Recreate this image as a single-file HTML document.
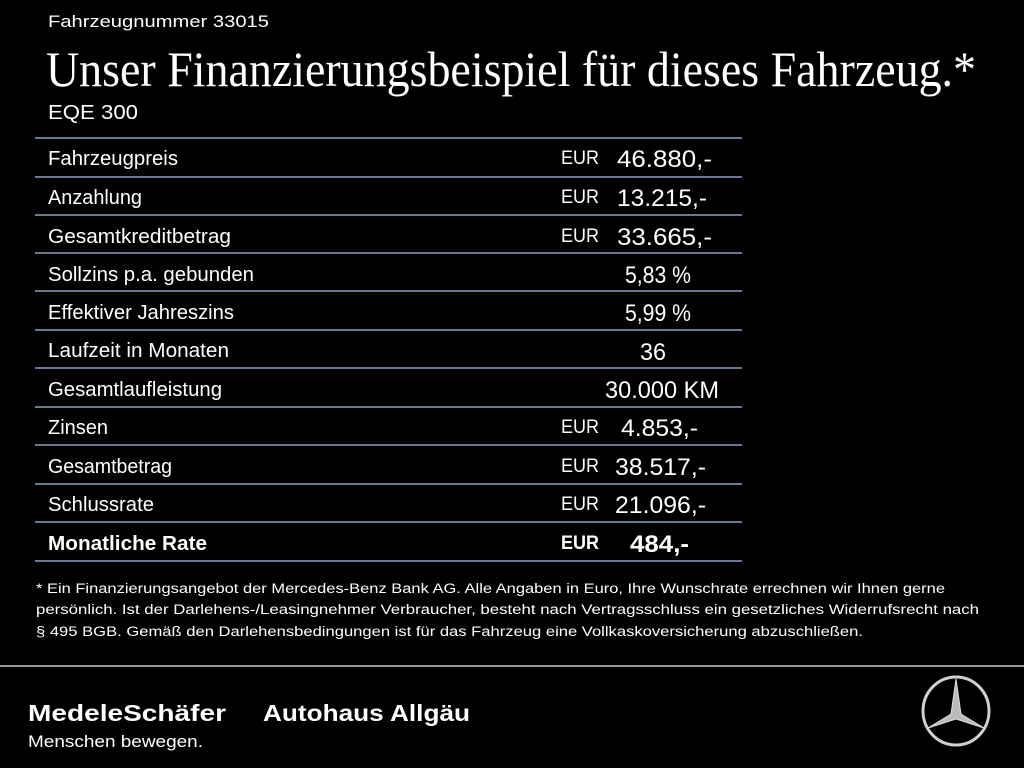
<!DOCTYPE html>
<html><head><meta charset="utf-8"><style>
html,body{margin:0;padding:0;background:#000;}
svg{display:block}
</style></head><body>
<svg width="1024" height="768" viewBox="0 0 1024 768" xmlns="http://www.w3.org/2000/svg">
<rect width="1024" height="768" fill="#000"/>
<g font-family="Liberation Sans, sans-serif" fill="#fff">
<text x="48" y="27" font-size="17" textLength="221" lengthAdjust="spacingAndGlyphs">Fahrzeugnummer 33015</text>
<text x="46" y="86" font-family="Liberation Serif, serif" font-size="50" textLength="930" lengthAdjust="spacingAndGlyphs">Unser Finanzierungsbeispiel für dieses Fahrzeug.*</text>
<text x="48" y="119" font-size="20" textLength="90" lengthAdjust="spacingAndGlyphs">EQE 300</text>
</g>
<g stroke="#6a7890" stroke-width="2">
<line x1="35" y1="138" x2="742" y2="138"/>
<line x1="35" y1="177" x2="742" y2="177"/>
<line x1="35" y1="215" x2="742" y2="215"/>
<line x1="35" y1="253" x2="742" y2="253"/>
<line x1="35" y1="291" x2="742" y2="291"/>
<line x1="35" y1="330" x2="742" y2="330"/>
<line x1="35" y1="368" x2="742" y2="368"/>
<line x1="35" y1="407" x2="742" y2="407"/>
<line x1="35" y1="445" x2="742" y2="445"/>
<line x1="35" y1="484" x2="742" y2="484"/>
<line x1="35" y1="522" x2="742" y2="522"/>
<line x1="35" y1="561" x2="742" y2="561"/>
</g>
<g font-family="Liberation Sans, sans-serif" fill="#fff" font-size="20">
<text x="48" y="165" textLength="130" lengthAdjust="spacingAndGlyphs">Fahrzeugpreis</text>
<text x="48" y="204" textLength="94" lengthAdjust="spacingAndGlyphs">Anzahlung</text>
<text x="48" y="243" textLength="183" lengthAdjust="spacingAndGlyphs">Gesamtkreditbetrag</text>
<text x="48" y="281" textLength="206" lengthAdjust="spacingAndGlyphs">Sollzins p.a. gebunden</text>
<text x="48" y="319" textLength="186" lengthAdjust="spacingAndGlyphs">Effektiver Jahreszins</text>
<text x="48" y="357" textLength="181" lengthAdjust="spacingAndGlyphs">Laufzeit in Monaten</text>
<text x="48" y="396" textLength="174" lengthAdjust="spacingAndGlyphs">Gesamtlaufleistung</text>
<text x="48" y="434" textLength="60" lengthAdjust="spacingAndGlyphs">Zinsen</text>
<text x="48" y="473" textLength="124" lengthAdjust="spacingAndGlyphs">Gesamtbetrag</text>
<text x="48" y="511" textLength="106" lengthAdjust="spacingAndGlyphs">Schlussrate</text>
<text x="48" y="550" font-weight="bold" textLength="159" lengthAdjust="spacingAndGlyphs">Monatliche Rate</text>
<g font-size="19">
<text x="561" y="164" textLength="38" lengthAdjust="spacingAndGlyphs">EUR</text>
<text x="561" y="203" textLength="38" lengthAdjust="spacingAndGlyphs">EUR</text>
<text x="561" y="242" textLength="38" lengthAdjust="spacingAndGlyphs">EUR</text>
<text x="561" y="433" textLength="38" lengthAdjust="spacingAndGlyphs">EUR</text>
<text x="561" y="472" textLength="38" lengthAdjust="spacingAndGlyphs">EUR</text>
<text x="561" y="510" textLength="38" lengthAdjust="spacingAndGlyphs">EUR</text>
<text x="561" y="549" font-weight="bold" textLength="38" lengthAdjust="spacingAndGlyphs">EUR</text>
</g>
<g font-size="24">
<text x="617" y="167" textLength="95" lengthAdjust="spacingAndGlyphs">46.880,-</text>
<text x="617" y="206" textLength="90" lengthAdjust="spacingAndGlyphs">13.215,-</text>
<text x="617" y="245" textLength="95" lengthAdjust="spacingAndGlyphs">33.665,-</text>
<text x="625" y="283" textLength="66" lengthAdjust="spacingAndGlyphs">5,83 %</text>
<text x="625" y="321" textLength="66" lengthAdjust="spacingAndGlyphs">5,99 %</text>
<text x="640" y="360" textLength="26" lengthAdjust="spacingAndGlyphs">36</text>
<text x="605" y="398" textLength="114" lengthAdjust="spacingAndGlyphs">30.000 KM</text>
<text x="621" y="436" textLength="77" lengthAdjust="spacingAndGlyphs">4.853,-</text>
<text x="615" y="475" textLength="91" lengthAdjust="spacingAndGlyphs">38.517,-</text>
<text x="615" y="513" textLength="91" lengthAdjust="spacingAndGlyphs">21.096,-</text>
<text x="630" y="552" font-weight="bold" textLength="59" lengthAdjust="spacingAndGlyphs">484,-</text>
</g>
</g>
<g font-family="Liberation Sans, sans-serif" fill="#fff" font-size="13.5">
<text x="36" y="593" textLength="909" lengthAdjust="spacingAndGlyphs">* Ein Finanzierungsangebot der Mercedes-Benz Bank AG. Alle Angaben in Euro, Ihre Wunschrate errechnen wir Ihnen gerne</text>
<text x="36" y="614" textLength="943" lengthAdjust="spacingAndGlyphs">persönlich. Ist der Darlehens-/Leasingnehmer Verbraucher, besteht nach Vertragsschluss ein gesetzliches Widerrufsrecht nach</text>
<text x="36" y="636" textLength="827" lengthAdjust="spacingAndGlyphs">§ 495 BGB. Gemäß den Darlehensbedingungen ist für das Fahrzeug eine Vollkaskoversicherung abzuschließen.</text>
</g>
<line x1="0" y1="666" x2="1024" y2="666" stroke="#9a9a9a" stroke-width="2"/>
<g font-family="Liberation Sans, sans-serif" fill="#fff">
<text x="28" y="721" font-size="23" font-weight="bold" textLength="198" lengthAdjust="spacingAndGlyphs">MedeleSchäfer</text>
<text x="263" y="721" font-size="23" font-weight="bold" textLength="207" lengthAdjust="spacingAndGlyphs">Autohaus Allgäu</text>
<text x="28" y="747" font-size="17" textLength="175" lengthAdjust="spacingAndGlyphs">Menschen bewegen.</text>
</g>
<g transform="translate(956,711)" stroke="#d0d0d0" fill="none">
<ellipse cx="0" cy="0" rx="33" ry="34" stroke-width="3"/>
<path d="M0,-32 L5,3 L28,17 L0,8 L-28,17 L-5,3 Z" fill="#bbb" stroke="#ddd" stroke-width="1"/>
</g>
</svg>
</body></html>
